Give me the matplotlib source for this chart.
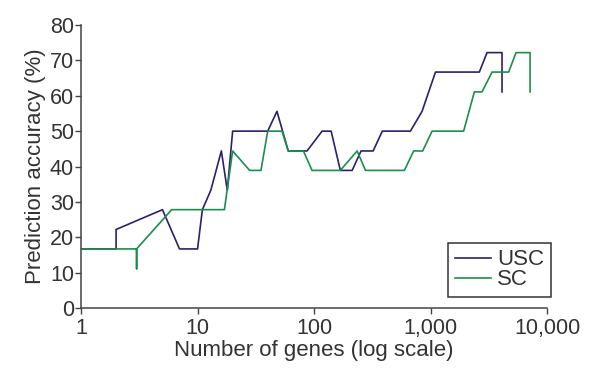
import matplotlib
matplotlib.use("Agg")
import matplotlib.pyplot as plt

# USC / SC prediction accuracy vs number of genes
usc_genes = [1, 2, 2, 5, 7, 10, 11, 13, 16, 18, 20, 40, 48, 60, 87, 117, 140, 168,
             212, 253, 321, 385, 670, 844, 1100, 2617, 3046, 4096, 4096]
usc_acc = [16.7, 16.7, 22.2, 27.8, 16.7, 16.7, 27.8, 33.3, 44.4, 33.3, 50.0, 50.0, 55.6,
           44.4, 44.4, 50.0, 50.0, 38.9, 38.9, 44.4, 44.4, 50.0, 50.0, 55.6, 66.7,
           66.7, 72.2, 72.2, 61.1]

sc_genes = [1, 3, 3, 3, 6, 17, 20, 28, 35, 40, 53, 60, 81, 96, 168, 234, 276, 595,
            715, 855, 1028, 1919, 2371, 2759, 3365, 4667, 5404, 7129, 7129]
sc_acc = [16.7, 16.7, 11.1, 16.7, 27.8, 27.8, 44.4, 38.9, 38.9, 50.0, 50.0, 44.4, 44.4,
          38.9, 38.9, 44.4, 38.9, 38.9, 44.4, 44.4, 50.0, 50.0, 61.1, 61.1, 66.7,
          66.7, 72.2, 72.2, 61.1]

x_ticks = [1, 10, 100, 1000, 10000]
x_tick_labels = ["1", "10", "100", "1,000", "10,000"]
y_ticks = [0, 10, 20, 30, 40, 50, 60, 70, 80]

TEXT = "#333333"
plt.rcParams["font.family"] = ["Liberation Sans", "DejaVu Sans"]

fig = plt.figure(figsize=(6, 3.85), dpi=100)
ax = fig.add_axes([0.135, 0.2, 0.777, 0.735])

ax.plot(usc_genes, usc_acc, color="#2e1f6b", linewidth=1.2, label="USC")
ax.plot(sc_genes, sc_acc, color="#1a8f4c", linewidth=1.2, label="SC")

ax.set_xscale("log")
ax.set_xlim(1, 10000)
ax.set_ylim(0, 80)
ax.set_xticks(x_ticks)
ax.set_xticklabels(x_tick_labels)
ax.minorticks_off()
ax.set_yticks(y_ticks)

for side in ("top", "right"):
    ax.spines[side].set_visible(False)
for side in ("left", "bottom"):
    ax.spines[side].set_color("#444444")
    ax.spines[side].set_linewidth(1.1)

ax.tick_params(direction="out", length=4, width=1, colors="#444444",
               labelsize=15.5, labelcolor=TEXT)
ax.tick_params(axis="x", pad=3)
ax.tick_params(axis="y", pad=1)
ax.set_xlabel("Number of genes (log scale)", fontsize=16, color=TEXT, labelpad=1)
ax.set_ylabel("Prediction accuracy (%)", fontsize=16, color=TEXT, labelpad=3)

leg = ax.legend(loc="lower right", bbox_to_anchor=(551 / 600, 1 - 297 / 385),
                bbox_transform=fig.transFigure, borderaxespad=0, fancybox=False,
                fontsize=16, handlelength=1.6, handletextpad=0.3,
                labelspacing=-0.05, borderpad=0.3, framealpha=1)
leg.get_frame().set_edgecolor("#333333")
leg.get_frame().set_linewidth(1.1)
for t in leg.get_texts():
    t.set_color(TEXT)

fig.savefig("out.png", dpi=100)
